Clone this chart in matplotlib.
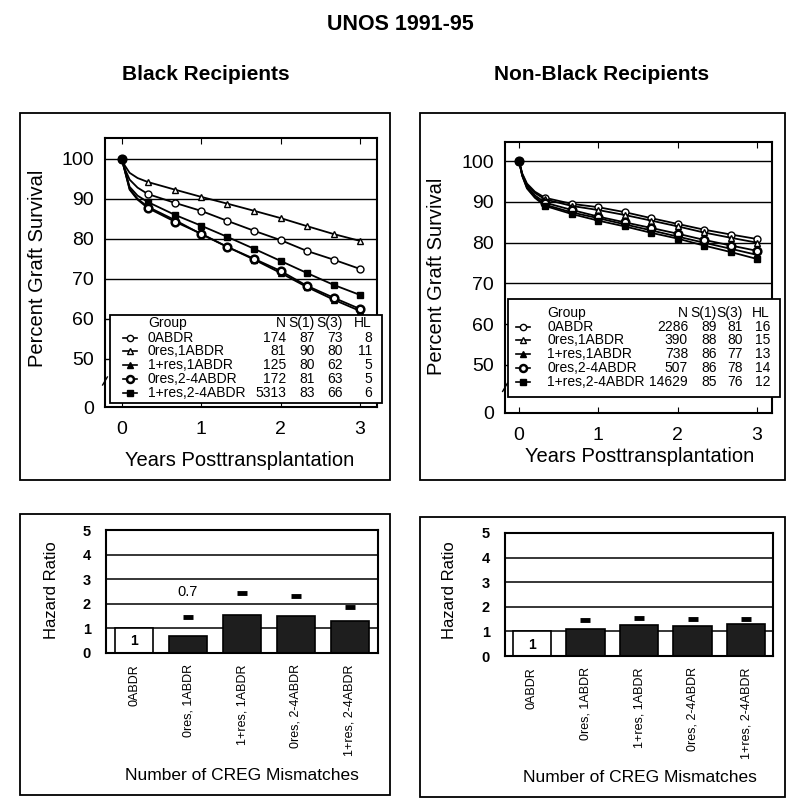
import matplotlib
matplotlib.use("Agg")
import matplotlib.pyplot as plt
from matplotlib.patches import Rectangle
from matplotlib.lines import Line2D

plt.rcParams['font.family'] = ['Liberation Sans', 'DejaVu Sans']

W, H = 800, 809

# ---- data ----
groups = ["0ABDR", "0res,1ABDR", "1+res,1ABDR", "0res,2-4ABDR", "1+res,2-4ABDR"]
bar_labels = ["0ABDR", "0res, 1ABDR", "1+res, 1ABDR", "0res, 2-4ABDR", "1+res, 2-4ABDR"]

# time points (years); markers every 4 months, extra early points for the initial drop
t_black = [0, 0.04, 0.1, 0.2, 0.33, 0.67, 1, 1.33, 1.67, 2, 2.33, 2.67, 3]
surv_black = {
    "0ABDR":         [100, 97.5, 94.8, 92.8, 91.2, 89.0, 87.0, 84.5, 82.0, 79.7, 77.0, 74.8, 72.5],
    "0res,1ABDR":    [100, 98.3, 96.5, 95.2, 94.2, 92.3, 90.5, 88.8, 87.0, 85.2, 83.2, 81.2, 79.5],
    "1+res,1ABDR":   [100, 97.0, 92.5, 90.0, 88.0, 84.7, 81.2, 78.0, 74.8, 71.5, 68.0, 64.8, 62.0],
    "0res,2-4ABDR":  [100, 97.0, 92.3, 89.8, 87.7, 84.3, 81.3, 78.0, 75.0, 72.0, 68.3, 65.3, 62.5],
    "1+res,2-4ABDR": [100, 97.2, 93.0, 90.8, 89.2, 86.0, 83.3, 80.5, 77.5, 74.5, 71.5, 68.5, 66.0],
}
t_nonblack = [0, 0.04, 0.1, 0.2, 0.33, 0.67, 1, 1.33, 1.67, 2, 2.33, 2.67, 3]
surv_nonblack = {
    "0ABDR":         [100, 97.0, 94.5, 92.5, 91.0, 89.5, 88.7, 87.5, 86.0, 84.6, 83.2, 82.0, 80.9],
    "0res,1ABDR":    [100, 96.8, 94.2, 92.2, 90.6, 89.0, 88.0, 86.8, 85.4, 84.0, 82.5, 81.2, 80.0],
    "1+res,1ABDR":   [100, 96.5, 93.5, 91.2, 89.3, 87.4, 86.0, 84.5, 83.0, 81.5, 80.0, 78.5, 77.0],
    "0res,2-4ABDR":  [100, 96.6, 93.8, 91.6, 89.8, 88.0, 86.4, 85.0, 83.6, 82.2, 80.7, 79.3, 78.0],
    "1+res,2-4ABDR": [100, 96.4, 93.3, 91.0, 89.0, 87.0, 85.4, 84.0, 82.4, 81.0, 79.3, 77.7, 76.0],
}

table_black = [("174", "87", "73", "8"), ("81", "90", "80", "11"), ("125", "80", "62", "5"),
               ("172", "81", "63", "5"), ("5313", "83", "66", "6")]
table_nonblack = [("2286", "89", "81", "16"), ("390", "88", "80", "15"), ("738", "86", "77", "13"),
                  ("507", "86", "78", "14"), ("14629", "85", "76", "12")]

hr_black = [1, 0.7, 1.55, 1.5, 1.3]
ci_black = [None, 1.45, 2.45, 2.3, 1.85]
hr_nonblack = [1, 1.1, 1.25, 1.2, 1.3]
ci_nonblack = [None, 1.45, 1.55, 1.5, 1.5]

styles = {
    "0ABDR":         dict(marker='o', mfc='white', ms=5, mew=1.0),
    "0res,1ABDR":    dict(marker='^', mfc='white', ms=5, mew=1.0),
    "1+res,1ABDR":   dict(marker='^', mfc='black', ms=5, mew=1.0),
    "0res,2-4ABDR":  dict(marker='o', mfc='white', ms=5.5, mew=1.8),
    "1+res,2-4ABDR": dict(marker='s', mfc='black', ms=5, mew=1.0),
}
mark_idx = [0, 4, 5, 6, 7, 8, 9, 10, 11, 12]


def fx(x):
    return x / W


def fy(y):
    return 1 - y / H


fig = plt.figure(figsize=(8, 8.09), dpi=100)

# panel frames
for x0, y0, x1, y1 in [(20, 113, 390, 480), (420, 113, 785, 480),
                       (20, 514, 390, 795), (420, 517, 785, 797)]:
    fig.add_artist(Rectangle((fx(x0), fy(y1)), fx(x1 - x0), (y1 - y0) / H,
                             transform=fig.transFigure, fill=False, ec='black', lw=1.3))

fig.text(0.5, fy(25), "UNOS 1991-95", ha='center', va='center', fontsize=15.5, fontweight='bold')
fig.text(fx(206), fy(75), "Black Recipients", ha='center', va='center', fontsize=15, fontweight='bold')
fig.text(fx(602), fy(75), "Non-Black Recipients", ha='center', va='center', fontsize=15, fontweight='bold')


def survival_panel(rect, t, surv, ylim, zero_pos, xlim, table, leg, ylab_xy, xlab_xy):
    ax = fig.add_axes(rect)
    for g in groups:
        st = styles[g]
        ax.plot(t, surv[g], color='black', lw=1.3, marker=st['marker'], markevery=mark_idx,
                ms=st['ms'], mfc=st['mfc'], mec='black', mew=st['mew'], zorder=3)
    for v in [100, 90, 80, 70, 60, 50]:
        ax.axhline(v, color='black', lw=1.0, zorder=1)
    ax.set_ylim(*ylim)
    ax.set_xlim(*xlim)
    ax.set_yticks([100, 90, 80, 70, 60, 50, zero_pos])
    ax.set_yticklabels(["100", "90", "80", "70", "60", "50", "0"])
    ax.set_xticks([0, 1, 2, 3])
    ax.tick_params(axis='both', labelsize=14, direction='in', length=4, top=True)
    ax.tick_params(axis='y', length=0, pad=8)
    ax.tick_params(axis='x', pad=10)
    for s in ax.spines.values():
        s.set_linewidth(1.5)
    # axis break mark
    ax.plot([xlim[0] - 0.03, xlim[0] + 0.03], [43.5, 45.5], color='black', lw=1.0, clip_on=False)
    fig.text(fx(ylab_xy[0]), fy(ylab_xy[1]), "Percent Graft Survival", rotation=90,
             ha='center', va='center', fontsize=14.5)
    fig.text(fx(xlab_xy[0]), fy(xlab_xy[1]), "Years Posttransplantation",
             ha='center', va='center', fontsize=14.5)

    # legend table
    lx0, ly0, lx1, ly1, mx, gx, cols, rows = leg
    fig.add_artist(Rectangle((fx(lx0), fy(ly1)), fx(lx1 - lx0), (ly1 - ly0) / H,
                             transform=fig.transFigure, fc='white', ec='black', lw=1.3, zorder=5))
    hdr = ["N", "S(1)", "S(3)", "HL"]
    fig.text(fx(gx), fy(rows[0]), "Group", ha='left', va='center', fontsize=10, zorder=6)
    for cx, h in zip(cols, hdr):
        fig.text(fx(cx), fy(rows[0]), h, ha='right', va='center', fontsize=10, zorder=6)
    for i, g in enumerate(groups):
        y = rows[i + 1]
        st = styles[g]
        fig.add_artist(Line2D([fx(mx - 7), fx(mx + 7)], [fy(y), fy(y)], transform=fig.transFigure,
                              color='black', lw=1.2, zorder=6))
        fig.add_artist(Line2D([fx(mx)], [fy(y)], transform=fig.transFigure, marker=st['marker'],
                              ms=st['ms'] - 0.5, mfc=st['mfc'], mec='black', mew=st['mew'],
                              zorder=7))
        fig.text(fx(gx), fy(y), g, ha='left', va='center', fontsize=10, zorder=6)
        for cx, val in zip(cols, table[i]):
            fig.text(fx(cx), fy(y), val, ha='right', va='center', fontsize=10, zorder=6)
    return ax


survival_panel([fx(105), fy(407), fx(272), 269 / H], t_black, surv_black, (38, 105.2), 38,
               (-0.21, 3.215), table_black,
               (110, 315, 382, 403, 130, 148, [286, 315, 343, 372], [323, 338, 351, 365, 379, 393]),
               (38, 268), (240, 460))
survival_panel([fx(505), fy(413), fx(267), 271 / H], t_nonblack, surv_nonblack, (38.2, 104.7), 38.2,
               (-0.177, 3.19), table_nonblack,
               (508, 299, 780, 397, 523, 547, [688, 717, 743, 770], [313, 327, 340, 354, 368, 382]),
               (437, 276), (640, 457))


def hazard_panel(rect, hr, ci, xlim, lab1_y, extra, ylab_xy, xlab_xy):
    ax = fig.add_axes(rect)
    x = list(range(len(hr)))
    colors = ['white'] + ['#1e1e1e'] * (len(hr) - 1)
    for v in [1, 2, 3, 4]:
        ax.axhline(v, color='black', lw=1.1, zorder=1)
    ax.bar(x, hr, width=0.72, color=colors, edgecolor='black', lw=1.2, zorder=2)
    for xi, c in zip(x, ci):
        if c is not None:
            ax.plot(xi, c, marker='_', ms=7, mew=3.5, color='black', zorder=3)
    ax.text(0, lab1_y, "1", ha='center', va='center', fontsize=10, fontweight='bold', zorder=4)
    if extra:
        ax.text(extra[0], extra[1], extra[2], ha='center', va='center', fontsize=10.5, zorder=4)
    ax.set_ylim(0, 5)
    ax.set_xlim(*xlim)
    ax.set_yticks([0, 1, 2, 3, 4, 5])
    ax.tick_params(axis='y', length=0, labelsize=10.5, pad=11)
    for lab in ax.get_yticklabels():
        lab.set_fontweight('bold')
    ax.set_xticks(x)
    ax.set_xticklabels(bar_labels, rotation=90, fontsize=9, va='top', ha='center')
    ax.tick_params(axis='x', length=0, pad=8)
    for s in ax.spines.values():
        s.set_linewidth(1.5)
    fig.text(fx(ylab_xy[0]), fy(ylab_xy[1]), "Hazard Ratio", rotation=90,
             ha='center', va='center', fontsize=12)
    fig.text(fx(xlab_xy[0]), fy(xlab_xy[1]), "Number of CREG Mismatches",
             ha='center', va='center', fontsize=12.5)
    return ax


hazard_panel([fx(106), fy(653), fx(272), 123 / H], hr_black, ci_black, (-0.52, 4.52), 0.5,
             (1, 2.5, "0.7"), (52, 590), (242, 775))
hazard_panel([fx(505), fy(656), fx(268), 123 / H], hr_nonblack, ci_nonblack, (-0.5, 4.5), 0.45,
             None, (450, 590), (640, 778))

fig.savefig("out.png", dpi=100)
